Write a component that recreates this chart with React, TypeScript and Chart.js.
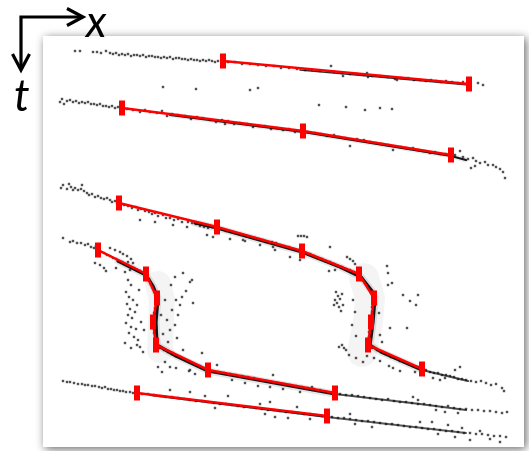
import React, { useEffect, useRef } from "react";
import { Chart, registerables } from "chart.js";

Chart.register(...registerables);

type P = [number, number];

// Figure frame (data units: x to the right, t downward)
const X_RANGE: P = [0, 529];
const T_RANGE: P = [0, 451];
const PANEL = { x0: 43, t0: 36, x1: 524, t1: 447 };
const AXIS_ORIGIN: P = [21, 17];
const X_ARROW_TIP: P = [83, 17];
const T_ARROW_TIP: P = [21, 70];

// Red fitted polylines (vertices carry the red tick markers)
const redA: P[] = [[223, 61], [469, 84]];
const redB: P[] = [[122, 108], [303, 131], [451, 155]];
const redC: P[] = [[119, 203], [217, 227], [302, 251], [359, 274], [374, 298], [371, 322], [368, 345], [422, 369]];
const redD: P[] = [[98, 250], [146, 274], [157, 298], [153, 322], [156, 345], [208, 370], [335, 393]];
const redE: P[] = [[137, 393], [327, 416]];

// Dense black track cores
const coreA: P[] = [[300, 70], [469, 85]];
const coreB: P[] = [[170, 115], [303, 132], [451, 156], [466, 160]];
const coreC: P[] = [[195, 223], [217, 228], [302, 252], [340, 267], [361, 277], [372, 291], [375, 298], [373, 322], [370, 345], [381, 352], [422, 370]];
const coreD: P[] = [[118, 261], [146, 275], [153, 286], [158, 298], [156, 322], [157, 345], [176, 356], [208, 371], [335, 394]];
const coreE: P[] = [[150, 395], [327, 417]];
const tailC: P[] = [[422, 370], [468, 381]];
const tailD: P[] = [[335, 394], [420, 404], [466, 410]];
const tailE: P[] = [[327, 417], [466, 433]];

// Gray haze around the steep parts
const hazeLeft: P[] = [[158, 284], [162, 300], [161, 322], [160, 350]];
const hazeRight: P[] = [[364, 278], [370, 298], [368, 322], [362, 352]];

// Individual detections
const dotsA: P[] = [
  [75, 51], [80, 51], [93, 52], [97, 52], [101, 53], [106, 51],
  [110, 53], [113, 54], [116, 53], [119, 55], [122, 54], [125, 55], [128, 54], [131, 56], [134, 55], [137, 55],
  [140, 56], [143, 55], [146, 57], [149, 56], [152, 56], [155, 57], [158, 57], [161, 58], [164, 57], [167, 58],
  [170, 57], [173, 59], [176, 58], [179, 58], [182, 59], [185, 59], [188, 60], [191, 59], [194, 60], [197, 60],
  [200, 61], [203, 60], [206, 61], [209, 60], [212, 61], [215, 62], [218, 61],
  [228, 62], [235, 62], [242, 64], [250, 64], [258, 65], [266, 66], [274, 66], [281, 68], [289, 68], [297, 69],
  [305, 70], [312, 70], [320, 71], [331, 66], [334, 72], [343, 76], [342, 73], [350, 74], [357, 74], [364, 75],
  [367, 73], [368, 77], [372, 76], [380, 76], [388, 77], [395, 79], [397, 80], [401, 78], [408, 78], [414, 80],
  [420, 80], [426, 81], [431, 80], [436, 81], [441, 82], [446, 81], [452, 82], [458, 83], [463, 82], [478, 83], [483, 85],
];
const dotsStray: P[] = [
  [163, 87], [196, 89], [250, 90], [258, 88], [319, 105], [346, 107], [365, 110], [380, 108], [392, 109],
];
const dotsB: P[] = [
  [60, 102], [62, 99], [64, 104], [67, 101], [70, 100], [73, 102], [76, 101], [79, 103], [82, 102], [85, 103],
  [88, 102], [91, 104], [94, 104], [97, 105], [100, 104], [103, 106], [106, 106], [109, 107], [112, 106], [115, 108], [118, 107],
  [127, 109], [133, 110], [140, 112], [145, 110], [150, 112], [157, 113], [162, 111], [167, 116], [172, 114], [178, 115],
  [185, 116], [191, 119], [197, 117], [203, 118], [210, 120], [216, 122], [222, 120], [225, 124], [228, 121], [234, 124],
  [240, 123], [247, 124], [253, 127], [259, 126], [265, 126], [271, 129], [277, 128], [283, 130], [289, 129], [295, 132], [300, 131],
  [308, 132], [315, 133], [321, 134], [327, 136], [334, 135], [339, 137], [345, 138], [350, 146], [357, 139], [364, 140],
  [370, 142], [376, 143], [382, 144], [388, 145], [393, 150], [401, 147], [406, 148], [413, 148], [418, 150], [424, 151],
  [430, 153], [435, 152], [440, 154], [446, 154],
  [455, 155], [460, 151], [463, 157], [468, 159], [471, 168], [473, 158], [475, 166], [476, 161], [480, 163], [485, 162],
  [488, 165], [493, 165], [496, 167], [500, 169], [503, 172], [505, 178],
];
const dotsC: P[] = [
  [61, 188], [63, 185], [67, 189], [69, 184], [71, 187], [73, 190], [75, 188], [78, 190], [81, 189], [82, 185],
  [84, 191], [87, 193], [89, 195], [92, 194], [95, 197], [98, 196], [101, 198], [104, 199], [107, 198], [110, 200],
  [112, 202], [115, 201], [117, 203],
  [124, 205], [128, 206], [132, 208], [136, 207], [138, 210], [140, 220], [141, 209], [145, 211], [149, 212], [152, 214],
  [155, 213], [155, 222], [158, 216], [163, 215], [166, 218], [170, 218], [173, 225], [174, 220], [178, 219], [182, 222],
  [187, 227], [188, 222], [192, 223], [196, 224], [200, 226], [204, 227], [207, 235], [208, 228], [212, 227], [213, 237],
  [222, 229], [226, 231], [230, 239], [231, 232], [235, 233], [239, 234], [243, 240], [245, 241], [246, 236], [250, 237],
  [255, 238], [259, 239], [260, 245], [263, 240], [267, 242], [272, 242], [273, 247], [275, 250], [276, 243], [280, 245],
  [284, 246], [289, 247], [290, 257], [294, 249], [298, 250], [298, 236], [301, 236], [304, 236], [307, 237], [300, 260],
  [306, 253], [310, 254], [314, 256], [318, 258], [322, 259], [326, 261], [329, 271], [330, 247], [330, 262], [334, 264],
  [335, 270], [338, 266], [342, 267], [346, 269], [347, 257], [350, 259], [350, 270], [353, 261], [354, 272], [355, 264],
  [362, 278], [365, 283], [368, 287], [371, 292], [373, 297], [373, 302], [372, 307], [372, 312], [371, 317], [370, 322],
  [370, 327], [369, 332], [369, 337], [368, 342],
  [387, 266], [388, 273], [392, 283], [388, 285], [403, 295], [410, 301], [418, 295], [416, 305], [407, 328], [390, 328],
  [379, 313], [380, 335], [382, 342],
  [336, 292], [338, 296], [335, 300], [337, 303], [339, 307], [341, 311], [340, 299], [342, 294], [334, 305], [343, 305],
  [342, 345], [344, 348], [346, 350], [339, 347], [353, 300], [355, 312], [352, 325], [356, 336],
  [349, 355], [356, 358], [363, 362], [367, 356],
  [372, 348], [377, 350], [382, 352], [386, 354], [391, 357], [395, 358], [400, 361], [404, 362], [409, 364], [413, 366], [418, 367],
  [374, 358], [380, 361], [389, 366], [393, 368], [400, 371], [415, 372],
  [426, 370], [430, 372], [434, 373], [438, 373], [442, 375], [446, 375], [450, 376], [454, 377], [458, 379], [462, 379],
  [466, 380], [471, 381], [476, 382], [481, 381], [486, 383], [491, 385], [496, 384], [502, 388], [504, 391],
  [455, 370], [460, 367], [445, 378], [433, 378], [440, 380],
];
const dotsD: P[] = [
  [63, 238], [70, 242], [73, 241], [77, 243], [81, 243], [85, 245], [88, 244], [91, 247], [94, 248], [96, 246],
  [101, 252], [104, 253], [107, 255], [110, 256], [113, 258], [116, 259], [119, 261], [122, 262], [125, 264], [128, 265],
  [131, 267], [134, 268], [137, 270], [140, 271], [143, 273],
  [110, 248], [115, 250], [120, 252], [123, 254], [127, 256], [131, 259], [128, 262], [133, 263],
  [95, 263], [100, 265], [104, 268], [106, 271], [116, 268], [125, 272], [130, 270],
  [149, 279], [151, 284], [153, 288], [155, 293], [156, 298], [156, 303], [155, 308], [154, 313], [154, 318], [153, 323],
  [154, 328], [154, 333], [155, 338], [155, 343],
  [128, 280], [131, 285], [126, 292], [129, 297], [133, 300], [127, 304], [130, 309], [135, 312], [128, 315], [132, 318],
  [126, 323], [131, 327], [136, 329], [129, 333], [134, 337], [138, 340], [125, 343], [137, 345], [140, 347], [131, 348],
  [139, 290], [137, 305], [141, 322], [144, 330], [143, 352],
  [183, 273], [190, 282], [186, 291], [182, 297], [176, 300], [180, 305], [172, 310], [178, 315], [167, 320], [175, 325],
  [170, 330], [163, 334], [177, 338], [168, 342], [183, 350], [173, 353], [165, 300], [161, 315], [171, 285], [175, 277],
  [192, 280], [193, 303], [202, 353],
  [160, 348], [164, 350], [168, 352], [172, 354], [176, 356], [180, 357], [184, 359], [188, 361], [192, 363], [196, 365],
  [200, 366], [204, 368],
  [158, 367], [162, 372], [165, 362], [170, 367], [176, 368], [189, 371], [190, 370], [195, 374],
  [212, 371], [218, 372], [224, 373], [230, 374], [236, 375], [242, 376], [248, 377], [254, 378], [260, 380], [266, 381],
  [272, 382], [278, 383], [284, 384], [290, 385], [296, 386], [302, 387], [308, 388], [314, 389], [320, 390], [326, 392], [331, 393],
  [217, 365], [232, 380], [245, 383], [258, 386], [270, 387], [273, 375], [283, 389], [300, 392], [312, 387],
  [340, 394], [346, 395], [352, 395], [358, 396], [364, 397], [370, 398], [376, 399], [382, 400], [388, 399], [394, 401],
  [400, 402], [406, 402], [412, 403], [418, 404], [424, 404], [430, 405], [436, 406], [442, 407], [448, 406], [454, 408],
  [460, 409], [466, 409], [472, 410], [478, 410], [484, 411], [490, 411], [496, 412], [502, 413], [507, 412],
  [413, 397], [418, 400], [436, 410], [445, 412], [458, 413],
];
const dotsE: P[] = [
  [63, 381], [67, 382], [70, 382], [74, 383], [78, 384], [82, 384], [85, 385], [88, 385], [92, 386], [95, 386],
  [99, 387], [102, 388], [105, 387], [108, 389], [111, 389], [114, 390], [117, 390], [120, 391], [123, 391], [126, 392],
  [130, 392], [133, 393],
  [142, 394], [148, 394], [154, 395], [160, 396], [166, 397], [172, 397], [178, 398], [184, 399], [190, 400], [196, 401],
  [202, 401], [208, 402], [214, 403], [220, 404], [226, 404], [232, 405], [238, 406], [244, 407], [250, 407], [256, 408],
  [262, 409], [268, 410], [274, 410], [280, 411], [286, 412], [292, 412], [298, 413], [304, 414], [310, 414], [316, 415], [322, 416],
  [170, 390], [190, 392], [205, 396], [215, 408], [228, 396], [260, 404], [265, 414], [270, 402], [275, 417], [288, 418],
  [297, 407], [310, 419],
  [332, 417], [338, 418], [344, 418], [350, 419], [356, 420], [362, 421], [368, 421], [374, 422], [380, 423], [386, 424],
  [392, 424], [398, 425], [404, 426], [410, 427], [416, 427], [422, 428], [428, 429], [434, 429], [440, 430], [446, 431],
  [452, 431], [458, 432], [464, 433], [470, 433], [476, 434], [482, 434], [488, 435], [494, 436], [500, 436], [506, 437],
  [350, 414], [355, 424], [372, 427], [420, 422], [432, 422], [438, 434], [448, 425], [455, 437], [462, 428], [470, 440],
  [480, 431], [490, 439], [500, 442],
];

const toXY = (arr: P[]) => arr.map(([x, y]) => ({ x, y }));

const RED = "#ff0000";

function redSet(arr: P[]) {
  return {
    type: "line" as const,
    data: toXY(arr),
    showLine: true,
    borderColor: RED,
    borderWidth: 2.5,
    pointStyle: "line" as const,
    pointRotation: 90,
    pointRadius: 7.5,
    pointBorderWidth: 6,
    pointBorderColor: RED,
    pointBackgroundColor: RED,
    tension: 0,
    order: 1,
  };
}
function lineSet(arr: P[], width: number, color: string, order: number) {
  return {
    type: "line" as const,
    data: toXY(arr),
    showLine: true,
    borderColor: color,
    borderWidth: width,
    pointRadius: 0,
    borderJoinStyle: "round" as const,
    borderCapStyle: "round" as const,
    tension: 0,
    order,
  };
}
function dotSet(arr: P[]) {
  return {
    type: "scatter" as const,
    data: toXY(arr),
    showLine: false,
    pointStyle: "rect" as const,
    pointRadius: 1.7,
    pointBorderWidth: 0,
    pointBackgroundColor: "rgba(50,50,50,0.85)",
    order: 4,
  };
}

const decorPlugin = {
  id: "decor",
  beforeDraw(chart: any) {
    const { ctx, scales } = chart;
    const sx = scales.x, sy = scales.y;
    const px = (v: number) => sx.getPixelForValue(v);
    const py = (v: number) => sy.getPixelForValue(v);
    ctx.save();
    ctx.fillStyle = "#ffffff";
    ctx.fillRect(0, 0, chart.width, chart.height);
    ctx.shadowColor = "rgba(0,0,0,0.6)";
    ctx.shadowBlur = 9;
    ctx.shadowOffsetX = 2;
    ctx.shadowOffsetY = 2;
    ctx.fillRect(px(PANEL.x0), py(PANEL.t0), px(PANEL.x1) - px(PANEL.x0), py(PANEL.t1) - py(PANEL.t0));
    ctx.restore();

    // axis arrows
    ctx.save();
    ctx.strokeStyle = "#000";
    ctx.lineWidth = 3.2;
    ctx.lineJoin = "miter";
    ctx.lineCap = "butt";
    const ox = px(AXIS_ORIGIN[0]), oy = py(AXIS_ORIGIN[1]);
    const xt = px(X_ARROW_TIP[0]), tt = py(T_ARROW_TIP[1]);
    ctx.beginPath();
    ctx.moveTo(ox, tt - 2);
    ctx.lineTo(ox, oy);
    ctx.lineTo(xt - 2, oy);
    ctx.stroke();
    ctx.beginPath();
    ctx.moveTo(xt - 16, oy - 8.5);
    ctx.lineTo(xt, oy);
    ctx.lineTo(xt - 16, oy + 8.5);
    ctx.stroke();
    ctx.beginPath();
    ctx.moveTo(ox - 8.5, tt - 16);
    ctx.lineTo(ox, tt);
    ctx.lineTo(ox + 8.5, tt - 16);
    ctx.stroke();
    ctx.restore();
  },
};

export default function App() {
  const ref = useRef<HTMLCanvasElement | null>(null);
  useEffect(() => {
    if (!ref.current) return;
    const chart = new Chart(ref.current, {
      type: "scatter",
      data: {
        datasets: [
          redSet(redA), redSet(redB), redSet(redC), redSet(redD), redSet(redE),
          lineSet(coreA, 1.6, "rgba(10,10,10,0.85)", 3),
          lineSet(coreB, 2.2, "rgba(10,10,10,0.95)", 3),
          lineSet(coreC, 3.2, "rgba(10,10,10,0.95)", 3),
          lineSet(coreD, 3.2, "rgba(10,10,10,0.95)", 3),
          lineSet(coreE, 2, "rgba(10,10,10,0.9)", 3),
          lineSet(tailC, 2.2, "rgba(20,20,20,0.75)", 3),
          lineSet(tailD, 2.2, "rgba(20,20,20,0.75)", 3),
          lineSet(tailE, 2, "rgba(20,20,20,0.7)", 3),
          dotSet(dotsA), dotSet(dotsB), dotSet(dotsC), dotSet(dotsD), dotSet(dotsE), dotSet(dotsStray),
          lineSet(coreC, 7, "rgba(0,0,0,0.10)", 5),
          lineSet(coreD, 7, "rgba(0,0,0,0.10)", 5),
          lineSet(coreB, 5, "rgba(0,0,0,0.07)", 5),
          lineSet(hazeLeft, 26, "rgba(0,0,0,0.045)", 6),
          lineSet(hazeRight, 30, "rgba(0,0,0,0.045)", 6),
        ] as any,
      },
      options: {
        responsive: false,
        animation: false,
        events: [],
        layout: { padding: 0, autoPadding: false },
        plugins: { legend: { display: false }, tooltip: { enabled: false } },
        scales: {
          x: { type: "linear", min: X_RANGE[0], max: X_RANGE[1], display: false },
          y: { type: "linear", min: T_RANGE[0], max: T_RANGE[1], reverse: true, display: false },
        },
      },
      plugins: [decorPlugin],
    });
    return () => chart.destroy();
  }, []);

  const labelStyle: React.CSSProperties = {
    position: "absolute",
    fontFamily: "Lato, 'Liberation Sans', sans-serif",
    fontStyle: "italic",
    fontSize: 44,
    lineHeight: "44px",
    color: "#000",
    margin: 0,
  };

  return (
    <div style={{ position: "fixed", left: 0, top: 0, width: 529, height: 451, background: "#fff", overflow: "hidden" }}>
      <canvas ref={ref} width={529} height={451} style={{ display: "block" }} />
      <span style={{ ...labelStyle, left: 86, top: -2 }}>x</span>
      <span style={{ ...labelStyle, left: 14, top: 72 }}>t</span>
    </div>
  );
}
